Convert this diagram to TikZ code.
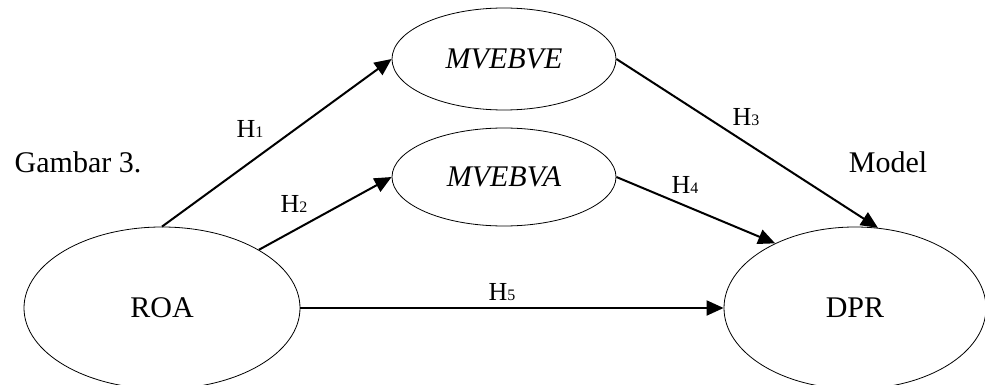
\documentclass[tikz,border=0pt]{standalone}
\usepackage{fontspec}
\setmainfont{Liberation Serif}
\usetikzlibrary{shapes.geometric,arrows.meta}
\begin{document}
\begin{tikzpicture}[x=1pt,y=-1pt,
  every node/.style={font=\fontsize{30}{32}\selectfont},
  var/.style={draw,ellipse,line width=0.8pt,inner sep=0pt},
  arr/.style={line width=2pt,-{Triangle[length=17pt,width=15pt]}},
  lbl/.style={anchor=base,inner sep=0pt},
  hl/.style={anchor=base,inner sep=0pt,font=\fontsize{26}{28}\selectfont}]
\useasboundingbox (0,0) rectangle (985,385);
\fill[white] (0,0) rectangle (985,385);
\node[var,minimum width=224pt,minimum height=102pt] (mve) at (504,59) {\itshape MVEBVE};
\node[var,minimum width=224pt,minimum height=98pt] (mva) at (504,177) {\itshape MVEBVA};
\node[var,minimum width=276pt,minimum height=162pt] (roa) at (162,308) {ROA};
\node[var,minimum width=262pt,minimum height=162pt] (dpr) at (855,308) {DPR};
\draw[arr] (roa.north) -- (mve.west);
\draw[arr] (roa.31) -- (mva.west);
\draw[arr] (mve.east) -- (dpr.74);
\draw[arr] (mva.east) -- (dpr.141);
\draw[arr] (roa.east) -- (dpr.west);
\newcommand{\hsub}[1]{H{\fontsize{16}{16}\selectfont #1}}
\node[hl] (h1) at (250,138) {\hsub{1}};
\node[hl] (h2) at (294,212) {\hsub{2}};
\node[hl] (h3) at (746,125) {\hsub{3}};
\node[hl] (h4) at (685,193) {\hsub{4}};
\node[hl] (h5) at (502,300) {\hsub{5}};
\node[lbl] (gam) at (78,172) {Gambar 3.};
\node[lbl] (mod) at (888,172) {Model};
\end{tikzpicture}
\end{document}
